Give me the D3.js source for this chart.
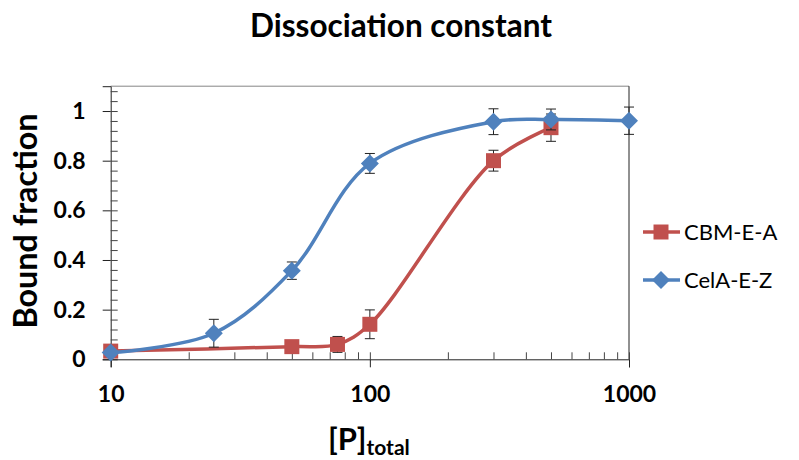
<!DOCTYPE html>
<head>
<meta charset="utf-8">
<script src="https://d3js.org/d3.v7.min.js"></script>
<style>
  body { margin: 0; background: #fff; }
  text { font-family: Lato, "Open Sans", sans-serif; fill: #000; }
</style>
</head>
<body>
<div id="chart"></div>
<script>
  // concentrations and bound fractions
  var cbmX   = [10, 50, 75, 100, 300, 500];
  var cbmY   = [0.033, 0.051, 0.06, 0.141, 0.80, 0.933];
  var cbmErr = [0.0, 0.01, 0.032, 0.058, 0.042, 0.055];

  var celX   = [10, 25, 50, 100, 300, 500, 1000];
  var celY   = [0.027, 0.105, 0.357, 0.789, 0.957, 0.966, 0.961];
  var celErr = [0.0, 0.056, 0.035, 0.04, 0.052, 0.042, 0.055];

  var yMajor = [0, 0.2, 0.4, 0.6, 0.8, 1];
  var xMajor = [10, 100, 1000];

  var width = 799, height = 460;
  var red = "#C0504D", blue = "#4F81BD";

  var svg = d3.select("#chart").append("svg")
      .attr("width", width)
      .attr("height", height);

  var x = d3.scaleLog().domain([10, 1000]).range([110.7, 629]);
  var y = d3.scaleLinear().domain([0, 1.1]).range([359.3, 86.2]);

  // shrink/grow a text until it spans the width seen in the picture
  function fit(sel, target) {
    var fs = parseFloat(sel.attr("font-size"));
    var w = sel.node().getComputedTextLength();
    sel.attr("font-size", (fs * target / w).toFixed(2));
  }

  // plot frame: grey top, dark right edge
  svg.append("line")
    .attr("x1", x(10)).attr("x2", x(1000))
    .attr("y1", y(1.1)).attr("y2", y(1.1))
    .attr("stroke", "#868686").attr("stroke-width", 1);
  svg.append("line")
    .attr("x1", x(1000)).attr("x2", x(1000))
    .attr("y1", y(1.1)).attr("y2", y(0))
    .attr("stroke", "#222").attr("stroke-width", 1);

  // y axis: majors cross the line, minors only inside
  var yMinor = d3.range(0, 1.1, 0.04);
  svg.append("g")
    .attr("transform", "translate(" + x(10) + ",0)")
    .call(d3.axisLeft(y).tickValues(yMajor).tickSize(8).tickFormat(function(d) { return d3.format("~g")(d); }))
    .call(function(g) {
      g.select(".domain").attr("stroke", "#222");
      g.selectAll(".tick line").attr("stroke", "#222");
      g.selectAll(".tick text").attr("font-size", 23).attr("font-weight", "bold").attr("x", -25)
        .style("font-family", "Lato, sans-serif");
    });
  svg.append("g")
    .attr("transform", "translate(" + x(10) + ",0)")
    .call(d3.axisRight(y).tickValues(yMinor).tickSize(7).tickFormat(""))
    .call(function(g) {
      g.select(".domain").remove();
      g.selectAll(".tick line").attr("stroke", "#444");
    });

  // x axis (log)
  var xMinor = [];
  [10, 100].forEach(function(b) { for (var k = 2; k <= 9; k++) xMinor.push(b * k); });
  svg.append("g")
    .attr("transform", "translate(0," + y(0) + ")")
    .call(d3.axisBottom(x).tickValues(xMajor).tickSize(8).tickFormat(d3.format("d")))
    .call(function(g) {
      g.select(".domain").attr("stroke", "#222");
      g.selectAll(".tick line").attr("stroke", "#222");
      g.selectAll(".tick text").attr("font-size", 23).attr("font-weight", "bold").attr("y", 26)
        .style("font-family", "Lato, sans-serif");
    });
  svg.append("g")
    .attr("transform", "translate(0," + y(0) + ")")
    .call(d3.axisTop(x).tickValues(xMinor.concat(xMajor)).tickSize(7).tickFormat(""))
    .call(function(g) {
      g.select(".domain").remove();
      g.selectAll(".tick line").attr("stroke", "#444");
    });

  var line = d3.line()
    .x(function(d) { return x(d[0]); })
    .y(function(d) { return y(d[1]); })
    .curve(d3.curveCatmullRom.alpha(0.5));

  function drawSeries(xs, ys, errs, color, marker) {
    var pts = xs.map(function(v, i) { return [v, ys[i], errs[i]]; });
    var g = svg.append("g");
    g.append("path").datum(pts)
      .attr("d", line)
      .attr("fill", "none")
      .attr("stroke", color)
      .attr("stroke-width", 3.5);
    var eb = g.selectAll(".err").data(pts.filter(function(d) { return d[2] > 0; }))
      .enter().append("g").attr("class", "err");
    eb.append("line")
      .attr("x1", function(d) { return x(d[0]); }).attr("x2", function(d) { return x(d[0]); })
      .attr("y1", function(d) { return y(d[1] - d[2]); }).attr("y2", function(d) { return y(d[1] + d[2]); })
      .attr("stroke", "#222").attr("stroke-width", 1);
    [-1, 1].forEach(function(s) {
      eb.append("line")
        .attr("x1", function(d) { return x(d[0]) - 5; }).attr("x2", function(d) { return x(d[0]) + 5; })
        .attr("y1", function(d) { return y(d[1] + s * d[2]); }).attr("y2", function(d) { return y(d[1] + s * d[2]); })
        .attr("stroke", "#222").attr("stroke-width", 1);
    });
    g.selectAll(".mk").data(pts).enter().append("path")
      .attr("transform", function(d) { return "translate(" + x(d[0]) + "," + y(d[1]) + ")"; })
      .attr("d", marker)
      .attr("fill", color);
  }

  var square = "M-7.5,-7.5H7.5V7.5H-7.5Z";
  var diamond = "M0,-9L9,0L0,9L-9,0Z";

  drawSeries(cbmX, cbmY, cbmErr, red, square);
  drawSeries(celX, celY, celErr, blue, diamond);

  // title
  var title = svg.append("text")
    .attr("x", 401).attr("y", 37)
    .attr("text-anchor", "middle")
    .attr("font-size", 28).attr("font-weight", "bold")
    .text("Dissociation constant");
  fit(title, 302);

  // y label
  var ylab = svg.append("text")
    .attr("transform", "translate(37,221) rotate(-90)")
    .attr("text-anchor", "middle")
    .attr("font-size", 28).attr("font-weight", "bold")
    .text("Bound fraction");
  fit(ylab, 215);

  // x label with subscript
  var xlab = svg.append("text")
    .attr("x", 328).attr("y", 450)
    .attr("font-size", 31).attr("font-weight", "bold");
  xlab.append("tspan").text("[P]");
  xlab.append("tspan").attr("font-size", 21).attr("dy", 5).text("total");

  // legend
  var legend = [
    {name: "CBM-E-A", color: red, marker: square, y: 232},
    {name: "CelA-E-Z", color: blue, marker: diamond, y: 280}
  ];
  var lg = svg.selectAll(".legend").data(legend).enter().append("g")
    .attr("transform", function(d) { return "translate(0," + d.y + ")"; });
  lg.append("line").attr("x1", 643).attr("x2", 680)
    .attr("stroke", function(d) { return d.color; }).attr("stroke-width", 3.5);
  lg.append("path").attr("transform", "translate(661,0)")
    .attr("d", function(d) { return d.marker; })
    .attr("fill", function(d) { return d.color; });
  lg.append("text").attr("x", 684).attr("y", 8)
    .attr("font-size", 22)
    .text(function(d) { return d.name; })
    .each(function(d) { if (d.name === "CelA-E-Z") fit(d3.select(this), 103); });
  lg.selectAll("text").attr("font-size", function() { return lg.select("text:last-child").attr("font-size"); });
</script>
</body>
</html>
